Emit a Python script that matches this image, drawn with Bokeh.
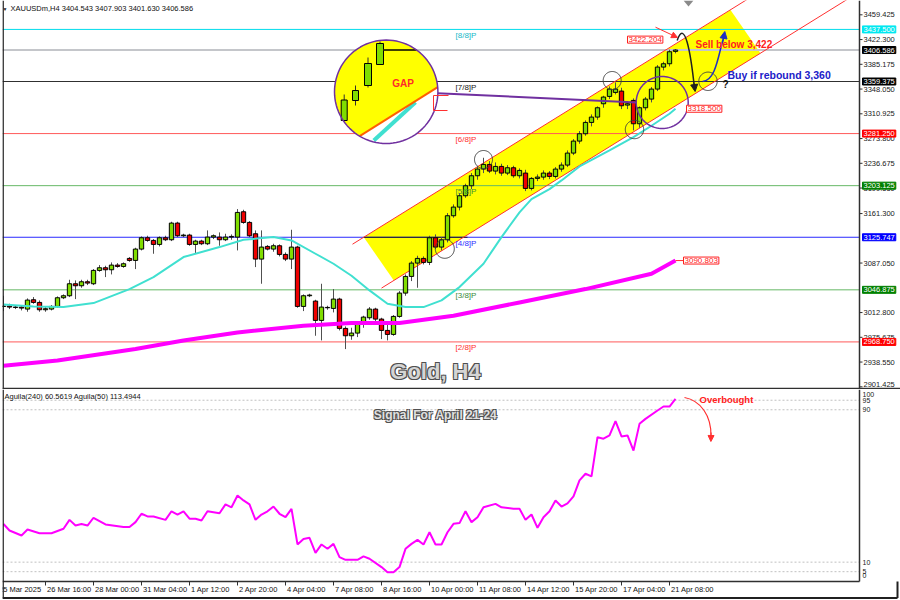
import math
from bokeh.plotting import figure
from bokeh.layouts import column
from bokeh.models import Range1d, Label, Arrow, NormalHead, ColumnDataSource
from bokeh.embed import file_html
from bokeh.resources import INLINE

# ---------------- data ----------------
bar_index = list(range(113))
opens = [
    3022, 3022.5, 3021, 3021, 3018, 3032, 3028, 3017, 3018, 3022,
    3035, 3038, 3056, 3053, 3059, 3056, 3076, 3080, 3077, 3084,
    3082, 3094, 3091, 3108, 3125, 3121, 3115, 3125, 3122, 3147,
    3128, 3129, 3115, 3120, 3116, 3126, 3126, 3122, 3126, 3126,
    3164, 3148, 3131, 3093, 3112, 3108, 3113, 3100, 3093, 3111,
    3022, 3038, 3030, 3001, 3020, 3019, 3033, 2989, 2978, 2982,
    2996, 3005, 3018, 3003, 2986, 2980, 3007, 3042, 3067, 3087,
    3094, 3088, 3125, 3111, 3122, 3158, 3171, 3188, 3203, 3218,
    3228, 3235, 3225, 3232, 3222, 3230, 3218, 3222, 3199, 3214,
    3216, 3222, 3217, 3228, 3234, 3252, 3270, 3281, 3298, 3306,
    3326, 3337, 3343, 3345, 3324, 3331, 3296, 3320, 3333, 3348,
    3381, 3386, 3404.543]
highs = [
    3038, 3026, 3024, 3024, 3034, 3036, 3031, 3021, 3024, 3037,
    3040, 3062, 3061, 3062, 3062, 3078, 3084, 3083, 3088, 3087,
    3088, 3096, 3110, 3127, 3128, 3123, 3127, 3128, 3149, 3149,
    3131, 3131, 3122, 3122, 3136, 3130, 3133, 3131, 3130, 3168,
    3167, 3150, 3136, 3136, 3114, 3116, 3115, 3103, 3137, 3113,
    3040, 3041, 3032, 3056, 3023, 3048, 3035, 2992, 2990, 2998,
    3008, 3021, 3020, 3005, 2995, 3009, 3045, 3070, 3090, 3098,
    3097, 3128, 3130, 3126, 3162, 3175, 3192, 3206, 3222, 3232,
    3245, 3240, 3238, 3236, 3234, 3233, 3229, 3227, 3216, 3220,
    3226, 3225, 3231, 3238, 3256, 3273, 3285, 3301, 3310, 3322,
    3338, 3352, 3358, 3350, 3330, 3334, 3322, 3336, 3351, 3384,
    3389, 3407, 3407.903]
lows = [
    3015, 3018, 3018, 3016, 3014, 3026, 3014, 3014, 3016, 3020,
    3033, 3036, 3033, 3050, 3054, 3054, 3074, 3066, 3070, 3080,
    3080, 3089, 3078, 3106, 3119, 3101, 3112, 3120, 3120, 3126,
    3126, 3113, 3101, 3114, 3114, 3123, 3113, 3120, 3122, 3106,
    3146, 3126, 3081, 3056, 3106, 3104, 3097, 3090, 3078, 3020,
    3015, 3036, 2978, 2971, 3017, 3013, 2986, 2958, 2972, 2976,
    2990, 3002, 3000, 2973, 2971, 2978, 3005, 3038, 3060, 3050,
    3085, 3084, 3108, 3106, 3118, 3155, 3166, 3185, 3198, 3212,
    3222, 3222, 3220, 3218, 3219, 3215, 3214, 3195, 3196, 3210,
    3212, 3213, 3214, 3224, 3231, 3249, 3266, 3278, 3292, 3302,
    3320, 3333, 3340, 3318, 3318, 3286, 3290, 3316, 3328, 3345,
    3376, 3382, 3401.630]
closes = [
    3022.5, 3021, 3020.5, 3019.5, 3031.5, 3028, 3017, 3018.5, 3022, 3035,
    3038, 3056, 3053, 3059, 3057, 3076, 3080, 3077, 3084, 3082,
    3086, 3091, 3108, 3125, 3121, 3115, 3125, 3122, 3147, 3128,
    3129, 3115, 3120, 3116, 3126, 3128, 3122, 3126, 3127, 3163,
    3148, 3128, 3093, 3111, 3108, 3113, 3100, 3093, 3111, 3022,
    3038, 3039, 3001, 3021, 3020.5, 3033, 2989, 2978, 2982, 2996,
    3006, 3018, 3003, 2986, 2980, 3007, 3042, 3067, 3087, 3094,
    3088, 3125, 3111, 3122, 3158, 3171, 3188, 3203, 3218, 3228,
    3235, 3225, 3232, 3222, 3230, 3218, 3226, 3199, 3214, 3216,
    3222, 3217, 3228, 3234, 3252, 3270, 3281, 3298, 3306, 3320,
    3336, 3348, 3348, 3323, 3326, 3296, 3320, 3333, 3348, 3381,
    3386, 3404, 3406.586]

ma_fast_idx = [0, 5, 10, 15, 21, 25, 30, 36, 40, 45, 48, 52, 55, 58, 61, 64, 67, 70,
               73, 76, 80, 83, 86, 88, 91, 93, 96, 101, 105, 108, 111, 112]
ma_fast_val = [3025, 3022, 3021, 3027, 3048, 3066, 3096, 3111, 3122, 3126, 3121, 3101,
               3086, 3068, 3046, 3026, 3021, 3021, 3031, 3051, 3086, 3126, 3163, 3183,
               3198, 3211, 3232, 3256, 3276, 3293, 3311, 3318.5]
ma_slow_idx = [0, 9, 22, 30, 39, 50, 58, 66, 75, 86, 97, 108, 112]
ma_slow_val = [2933, 2941, 2958, 2971, 2983, 2993, 2997, 2997, 3008, 3028, 3048, 3071, 3090.803]

osc_idx = [0, 1, 3, 4, 6, 8, 10, 11, 12, 13, 14, 15, 17, 20, 21, 22, 23, 24, 25, 27,
           28, 29, 30, 31, 32, 33, 34, 36, 37, 38, 39, 40, 41, 42, 43, 44, 45, 46, 47,
           48, 49, 50, 51, 52, 53, 54, 55, 56, 57, 59, 60, 61, 63, 64, 65, 66, 67, 68,
           69, 70, 71, 72, 73, 74, 75, 76, 77, 78, 79, 80, 82, 83, 85, 86, 87, 88, 89,
           90, 91, 92, 93, 94, 95, 96, 97, 98, 99, 100, 101, 102, 103, 104, 105, 106,
           107, 109, 110, 111, 112]
osc_val = [30.0, 26.6, 24.0, 27.1, 25.2, 25.2, 27.5, 32.2, 29.2, 30.0, 29.2, 33.3, 29.8,
           28.4, 28.4, 31.0, 35.4, 34.0, 34.0, 32.2, 36.7, 35.0, 36.7, 32.8, 32.8, 31.9,
           36.7, 35.7, 40.3, 38.8, 45.0, 42.4, 40.3, 32.2, 35.0, 36.7, 39.2, 35.4, 33.6,
           38.0, 19.3, 22.2, 22.8, 14.9, 19.3, 17.0, 19.6, 12.6, 11.2, 11.2, 13.0, 11.8,
           7.4, 4.7, 4.7, 7.4, 17.0, 19.6, 21.7, 19.3, 25.7, 19.3, 19.3, 25.7, 30.1, 30.5,
           36.7, 31.0, 33.6, 38.8, 40.6, 38.8, 38.0, 38.0, 32.2, 35.0, 28.0, 33.6, 36.7,
           42.4, 39.2, 40.9, 44.5, 52.9, 56.4, 55.0, 75.6, 74.8, 76.5, 84.0, 76.0, 76.5,
           68.6, 82.6, 85.2, 89.6, 91.7, 91.7, 95.7]

murrey_levels = [3437.5, 3359.375, 3281.25, 3203.125, 3125.747, 3046.875, 2968.75]
murrey_names = ["[8/8]P", "[7/8]P", "[6/8]P", "[5/8]P", "[4/8]P", "[3/8]P", "[2/8]P"]
current_price = 3406.586
price_ticks = [3459.425, 3422.3, 3385.175, 3348.05, 3310.925, 3273.8, 3236.675,
               3199.55, 3161.3, 3087.05, 3012.8, 2975.675, 2938.55, 2901.425]
osc_levels = [95, 90, 10, 5]
osc_tick_labels = ["100", "95", "90", "10", "5", "0"]
time_tick_idx = [-1, 7, 15, 23, 31, 39, 47, 55, 63, 71, 79, 87, 95, 103, 111]
time_tick_labels = ["25 Mar 2025", "26 Mar 16:00", "28 Mar 00:00", "31 Mar 04:00",
                    "1 Apr 12:00", "2 Apr 20:00", "4 Apr 04:00", "7 Apr 08:00",
                    "8 Apr 16:00", "10 Apr 00:00", "11 Apr 08:00", "14 Apr 12:00",
                    "15 Apr 20:00", "17 Apr 04:00", "21 Apr 08:00"]
header_text = "XAUUSDm,H4  3404.543 3407.903 3401.630 3406.586"
osc_header = "Aguila(240) 60.5619  Aguila(50) 113.4944"
channel_value = 3422.204

# ---------------- styling / layout ----------------
FONT = "Liberation Sans"
murrey_line_colors = ["#00dcec", "#303030", "#ff5a5a", "#66b866", "#2a2aff", "#66b866", "#ff5a5a"]
murrey_text_colors = ["#20b8c8", "#202020", "#ff3030", "#3a8a3a", "#3030ff", "#3a8a3a", "#ff3030"]
box_colors = ["#00e8f0", "#000000", "#ff0000", "#008000", "#0000ff", "#008000", "#ff0000"]
osc_label_py = [394.3, 400.0, 409.3, 561.7, 570.7, 574.5]

AXIS_PX = 859          # pixel column of the right axis line
BOTTOM_PX = 581        # pixel row of the bottom axis line


def X(px):
    return (px - 3.0) / 6.0


def Y(py):
    return 3480.875 - 1.5 * py


def V(py):
    return (580.7 - py) / 1.905


xr = Range1d(X(2), X(900))


def lab(fig, x, y, text, size, color="black", bold=False, align="left",
        baseline="middle", **kw):
    fig.add_layout(Label(x=x, y=y, text=text, text_font=FONT, text_font_size=f"{size}px",
                         text_color=color, text_font_style="bold" if bold else "normal",
                         text_align=align, text_baseline=baseline, **kw))


def circ(cx, cy, r, a0=0.0, a1=2 * math.pi, n=96):
    xs, ys = [], []
    for k in range(n + 1):
        a = a0 + (a1 - a0) * k / n
        xs.append(X(cx + r * math.cos(a)))
        ys.append(Y(cy + r * math.sin(a)))
    return xs, ys


p1 = figure(frame_width=898, frame_height=389, x_range=xr, y_range=Range1d(Y(389), Y(0)),
            toolbar_location=None, output_backend="svg", x_axis_location=None,
            y_axis_location=None, min_border_left=2, min_border_right=0,
            min_border_top=0, min_border_bottom=0, outline_line_color=None,
            background_fill_color="white", border_fill_color="white")
p1.grid.visible = False

# regression channel (yellow)
p1.patch([X(363.3), X(730), X(760), X(393.3)], [Y(236.7), Y(9.4), Y(52.7), Y(280)],
         fill_color="#ffff00", line_color=None)

# murrey math levels and current price line
p1.segment(x0=[X(2)] * 7, x1=[X(AXIS_PX)] * 7, y0=murrey_levels, y1=murrey_levels,
           line_color=murrey_line_colors, line_width=1)
p1.segment(x0=[X(2)], x1=[X(AXIS_PX)], y0=[current_price], y1=[current_price],
           line_color="#c4c6ca", line_width=2)
p1.segment(x0=[X(363.3)], x1=[X(467)], y0=[Y(236.8)], y1=[Y(236.8)], line_color="#202020")

# channel borders
p1.segment(x0=[X(352), X(381)], y0=[Y(243.7), Y(287.6)], x1=[X(753), X(853)],
           y1=[Y(-5), Y(-5)], line_color="#ff3030", line_width=1)

# candles
src = ColumnDataSource(dict(
    i=bar_index, o=opens, h=highs, l=lows, c=closes,
    top=[max(a, b) for a, b in zip(opens, closes)],
    bot=[min(a, b) for a, b in zip(opens, closes)],
    col=["#80dd00" if c >= o else "#ee0000" for o, c in zip(opens, closes)]))
p1.segment(x0="i", y0="h", x1="i", y1="l", source=src, line_color="#505050", line_width=1)
p1.vbar(x="i", top="top", bottom="bot", width=0.72, fill_color="col", line_color="black",
        line_width=1, source=src)

# moving averages
p1.line(ma_slow_idx, ma_slow_val, line_color="#ff00ff", line_width=4)
p1.line(ma_fast_idx, ma_fast_val, line_color="#40e0d0", line_width=2)

# black rings
for cx, cy, r in [(444.3, 248.3, 9.5), (483, 159, 9), (611.7, 80, 9),
                  (634, 129, 9.2), (707.5, 80.8, 9.2)]:
    xs, ys = circ(cx, cy, r)
    p1.line(xs, ys, line_color="#404040", line_width=1)

# purple connector and circle
p1.line([X(436.7), X(636)], [Y(92.7), Y(102)], line_color="#7030a0", line_width=2)
xs, ys = circ(661.7, 102, 26)
p1.line(xs, ys, line_color="#7030a0", line_width=1.5)

# GAP inset
icx, icy, ir = 385.7, 91.3, 51.7
xs, ys = circ(icx, icy, ir)
p1.patch(xs, ys, fill_color="#ffff00", line_color=None)
a_r, a_l = -0.09, 2.11
xs, ys = circ(icx, icy, ir, a_r, a_l, 60)
p1.patch(xs, ys, fill_color="white", line_color=None)
for (l, r_, t, b, wx, wt, wb) in [(340.7, 346.7, 99.5, 120, 343.7, 94, 99.5),
                                  (352, 358, 90, 100, 355, 85, 105),
                                  (364, 371, 63, 85, 367.5, 57, 87),
                                  (376, 383, 43, 64, 379.5, 41, 43)]:
    p1.segment(x0=[X(wx)], x1=[X(wx)], y0=[Y(wt)], y1=[Y(wb)], line_color="#303030")
    p1.quad(left=[X(l)], right=[X(r_)], top=[Y(t)], bottom=[Y(b)], fill_color="#80dd00",
            line_color="black")
p1.line([X(383), X(416)], [Y(49.5), Y(49.5)], line_color="#404000", line_width=2)
p1.line([X(373.3), X(415)], [Y(140), Y(101.7)], line_color="#40e0d0", line_width=4)
p1.line([X(icx + ir * math.cos(a_l)), X(icx + ir * math.cos(a_r))],
        [Y(icy + ir * math.sin(a_l)), Y(icy + ir * math.sin(a_r))],
        line_color="#ff6000", line_width=2)
xs, ys = circ(icx, icy, ir)
p1.line(xs, ys, line_color="#7030a0", line_width=1.5)
p1.line([X(448), X(433), X(433), X(447)], [Y(95), Y(95), Y(110), Y(110)],
        line_color="#ff3030", line_width=1)
lab(p1, X(402.5), Y(83), "GAP", 10, color="#ff2a2a", bold=True, align="center")

# shift marker at top
p1.patch([X(683), X(693), X(688)], [Y(0), Y(0), Y(6)], fill_color="#8a8a8a", line_color=None)

# arrows
p1.bezier(x0=[X(676.7)], y0=[Y(40)], x1=[X(694)], y1=[Y(88)], cx0=[X(684)], cy0=[Y(18)],
          cx1=[X(690)], cy1=[Y(50)], line_color="#202020", line_width=1.5)
p1.add_layout(Arrow(end=NormalHead(size=7, fill_color="#202020", line_color="#202020"),
                    x_start=X(693.4), y_start=Y(82), x_end=X(694.6), y_end=Y(91),
                    line_color="#202020", line_width=1))
p1.bezier(x0=[X(702)], y0=[Y(81)], x1=[X(723.5)], y1=[Y(36)], cx0=[X(716)], cy0=[Y(80)],
          cx1=[X(718)], cy1=[Y(52)], line_color="#2030c0", line_width=1.5)
p1.add_layout(Arrow(end=NormalHead(size=7, fill_color="#2030c0", line_color="#2030c0"),
                    x_start=X(722.3), y_start=Y(42), x_end=X(724.3), y_end=Y(31),
                    line_color="#2030c0", line_width=1))
p1.add_layout(Arrow(end=NormalHead(size=6, fill_color="#ff3030", line_color="#ff3030"),
                    x_start=X(655), y_start=Y(26.7), x_end=X(677), y_end=Y(37),
                    line_color="#ff3030", line_width=1))
p1.line([X(675), X(683)], [ma_slow_val[-1], ma_slow_val[-1]], line_color="#ff3030")

# hand-drawn right price axis (line, ticks, labels)
p1.segment(x0=[X(AXIS_PX)], x1=[X(AXIS_PX)], y0=[Y(0)], y1=[Y(389)], line_color="#303030",
           line_width=1.5)
p1.segment(x0=[X(AXIS_PX)] * len(price_ticks), x1=[X(AXIS_PX + 3)] * len(price_ticks),
           y0=price_ticks, y1=price_ticks, line_color="#303030")
for t in price_ticks:
    yy = min((3480.875 - t) / 1.5, 383.5)
    lab(p1, X(863), Y(yy), f"{t:.3f}", 7.5, color="#202020")

# price boxes on the right axis
for lvl, colr in zip(murrey_levels, box_colors):
    lab(p1, X(862), lvl, f"{lvl:.3f}", 7.5, color="white", background_fill_color=colr,
        border_line_color=colr, padding=1)
lab(p1, X(862), current_price, f"{current_price:.3f}", 7.5, color="white",
    background_fill_color="black", border_line_color="black", padding=1)

# murrey names
for lvl, name, colr in zip(murrey_levels, murrey_names, murrey_text_colors):
    lab(p1, X(455), lvl, name, 8, color=colr, y_offset=-6)

# boxed values
for xpx, val in [(627, channel_value), (686, ma_fast_val[-1]), (683, ma_slow_val[-1])]:
    lab(p1, X(xpx), val, f"{val:.3f}", 8, color="#ff2020", background_fill_color="white",
        border_line_color="#ff2020", padding=1)

lab(p1, X(695), Y(44), "Sell below 3,422", 10, color="#ff2020", bold=True)
lab(p1, X(727), Y(74), "Buy if rebound 3,360", 10.5, color="#2020c8", bold=True)
lab(p1, X(725), Y(84), "?", 10, color="#101010", bold=True, align="center")

lab(p1, X(4.5), Y(8), "\u25BC", 5, color="#202020", align="center")
lab(p1, X(10), Y(8), header_text, 7.5, color="#101010")

for dx, dy in [(1, -1), (-1, 1), (1, 1), (-1, -1)]:
    lab(p1, X(435), Y(371), "Gold, H4", 22, color="#505050", bold=True, align="center",
        x_offset=dx, y_offset=dy)
lab(p1, X(435), Y(371), "Gold, H4", 22, color="#d4d4d4", bold=True, align="center")

# frame borders of the price panel
p1.segment(x0=[X(2.6)], x1=[X(2.6)], y0=[Y(0)], y1=[Y(389)], line_color="#202020",
           line_width=1.5)
p1.segment(x0=[X(2)], x1=[X(900)], y0=[Y(388.2)], y1=[Y(388.2)], line_color="#303030",
           line_width=2)

# ---------------- oscillator panel ----------------
p2 = figure(frame_width=898, frame_height=211, x_range=xr, y_range=Range1d(V(600), V(389)),
            toolbar_location=None, output_backend="svg", x_axis_location=None,
            y_axis_location=None, min_border_left=2, min_border_right=0,
            min_border_top=0, min_border_bottom=0, outline_line_color=None,
            background_fill_color="white", border_fill_color="white")
p2.grid.visible = False

p2.segment(x0=[X(2)] * 4, x1=[X(AXIS_PX)] * 4, y0=osc_levels, y1=osc_levels,
           line_color="#c0c0c0", line_dash="2 2", line_width=1)
p2.line(osc_idx, osc_val, line_color="#ff00ff", line_width=2)

# hand-drawn axes of the oscillator panel
p2.segment(x0=[X(AXIS_PX)], x1=[X(AXIS_PX)], y0=[V(389)], y1=[V(BOTTOM_PX)],
           line_color="#303030", line_width=1.5)
p2.segment(x0=[X(2)], x1=[X(AXIS_PX)], y0=[V(BOTTOM_PX)], y1=[V(BOTTOM_PX)],
           line_color="#303030", line_width=1.5)
p2.segment(x0=time_tick_idx, x1=time_tick_idx, y0=[V(BOTTOM_PX)] * len(time_tick_idx),
           y1=[V(BOTTOM_PX + 4)] * len(time_tick_idx), line_color="#303030")
for t, s in zip(time_tick_idx, time_tick_labels):
    lab(p2, t + 0.25, V(588.5), s, 7.5, color="#101010")
for s, py in zip(osc_tick_labels, osc_label_py):
    lab(p2, X(862), V(py), s, 7, color="#202020")

# outer frame lines
p2.segment(x0=[X(2.6)], x1=[X(2.6)], y0=[V(389)], y1=[V(598)], line_color="#202020",
           line_width=1.5)
p2.segment(x0=[X(2)], x1=[X(897)], y0=[V(597.5)], y1=[V(597.5)], line_color="#202020",
           line_width=2)
p2.segment(x0=[X(897)], x1=[X(897)], y0=[V(BOTTOM_PX)], y1=[V(597.5)], line_color="#202020",
           line_width=2)

lab(p2, X(4), V(396), osc_header, 7.5, color="#101010")
for dx, dy in [(1, -1), (-1, 1), (1, 1), (-1, -1)]:
    lab(p2, X(435), V(414), "Signal For April 21-24", 12, color="#505050", bold=True,
        align="center", x_offset=dx, y_offset=dy)
lab(p2, X(435), V(414), "Signal For April 21-24", 12, color="#e0e0e0", bold=True,
    align="center")
lab(p2, X(699), V(399), "Overbought", 9.5, color="#ff2020", bold=True)
p2.bezier(x0=[X(684)], y0=[V(397)], x1=[X(710.5)], y1=[V(436)], cx0=[X(700)], cy0=[V(400)],
          cx1=[X(711)], cy1=[V(415)], line_color="#ff3030", line_width=1.2)
p2.add_layout(Arrow(end=NormalHead(size=6, fill_color="#ff3030", line_color="#ff3030"),
                    x_start=X(710.6), y_start=V(432), x_end=X(710.4), y_end=V(441),
                    line_color="#ff3030", line_width=1))

layout = column(p1, p2)
open("out.html", "w").write(file_html(layout, INLINE, title="Gold H4"))
